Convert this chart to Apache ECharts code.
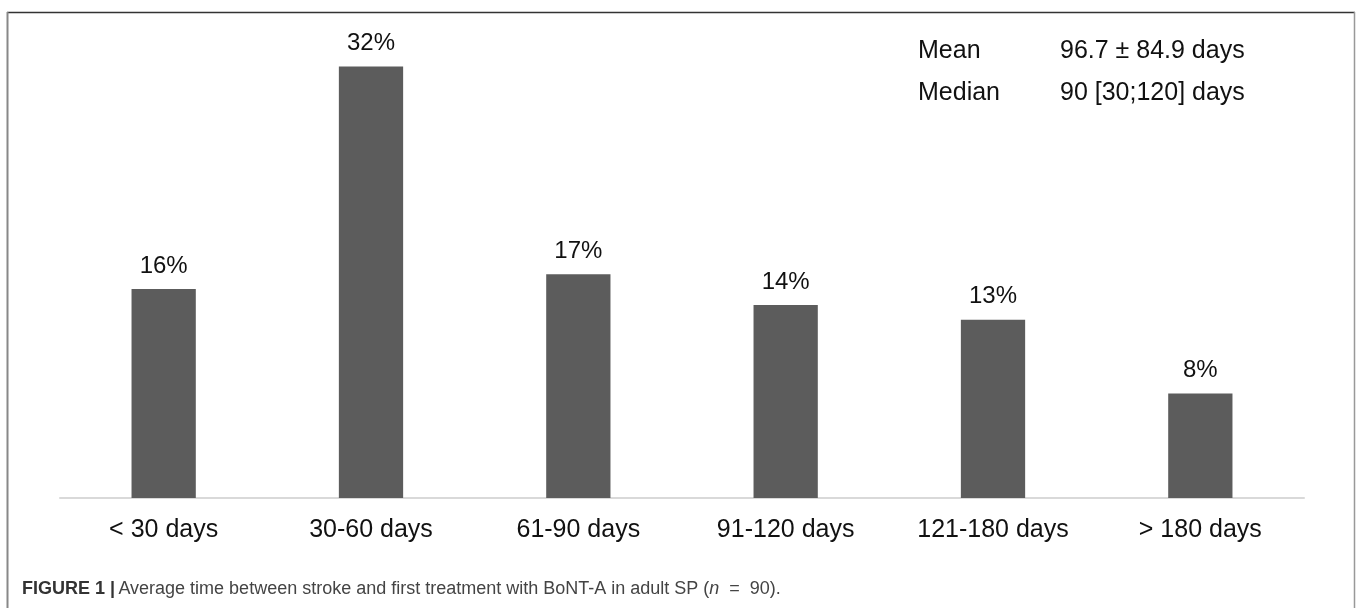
<!DOCTYPE html>
<html><head><meta charset="utf-8">
<script src="https://cdn.jsdelivr.net/npm/echarts@6/dist/echarts.min.js"></script>
<style>html,body{margin:0;padding:0;background:#fff}#c{width:1357px;height:608px}</style>
</head><body><div id="c"></div>
<script>
const categories = ['< 30 days', '30-60 days', '61-90 days', '91-120 days', '121-180 days', '> 180 days'];
const percentValues = [15.6, 32.2, 16.7, 14.4, 13.3, 7.8];
const statLabels = ['Mean', 'Median'];
const statValues = ['96.7 ± 84.9 days', '90 [30;120] days'];

const chart = echarts.init(document.getElementById('c'));
const font = '"Liberation Sans", Arial, Helvetica, sans-serif';
chart.setOption({
  animation: false,
  backgroundColor: '#fff',
  grid: { left: 60, right: 53, top: 29, bottom: 110 },
  xAxis: {
    type: 'category', data: categories,
    axisLine: { lineStyle: { color: '#d9d9d9', width: 2 } },
    axisTick: { show: false },
    axisLabel: { color: '#111', fontSize: 25, fontFamily: font, margin: 20 }
  },
  yAxis: { type: 'value', min: 0, max: 35, show: false, splitLine: { show: false } },
  series: [{
    type: 'bar', data: percentValues, barWidth: '31%',
    itemStyle: { color: '#5c5c5c' },
    label: { show: true, position: 'top', distance: 11, color: '#111', fontSize: 24, fontFamily: font,
      formatter: p => Math.round(p.value) + '%' }
  }],
  graphic: [
    { type: 'line', shape: { x1: 7, y1: 12.5, x2: 1355, y2: 12.5 }, style: { stroke: '#333', lineWidth: 1.5 } },
    { type: 'line', shape: { x1: 7.5, y1: 12, x2: 7.5, y2: 608 }, style: { stroke: '#888', lineWidth: 2 } },
    { type: 'line', shape: { x1: 1354.5, y1: 12, x2: 1354.5, y2: 608 }, style: { stroke: '#999', lineWidth: 1.5 } },
    { type: 'text', left: 918, top: 39, style: { text: statLabels[0], font: '25px ' + font, fill: '#111' } },
    { type: 'text', left: 1060, top: 39, style: { text: statValues[0], font: '25px ' + font, fill: '#111' } },
    { type: 'text', left: 918, top: 81, style: { text: statLabels[1], font: '25px ' + font, fill: '#111' } },
    { type: 'text', left: 1060, top: 81, style: { text: statValues[1], font: '25px ' + font, fill: '#111' } },
    { type: 'text', left: 22, top: 580, style: {
      text: '{b|FIGURE 1 |} {r|Average time between stroke and first treatment with BoNT-A in adult SP (}{i|n}{r|  =  90).}',
      rich: {
        b: { fontWeight: 'bold', fontSize: 18, fontFamily: font, fill: '#333' },
        r: { fontSize: 18, fontFamily: font, fill: '#444' },
        i: { fontSize: 18, fontStyle: 'italic', fontFamily: font, fill: '#444' }
      }
    } }
  ]
});
</script></body></html>
